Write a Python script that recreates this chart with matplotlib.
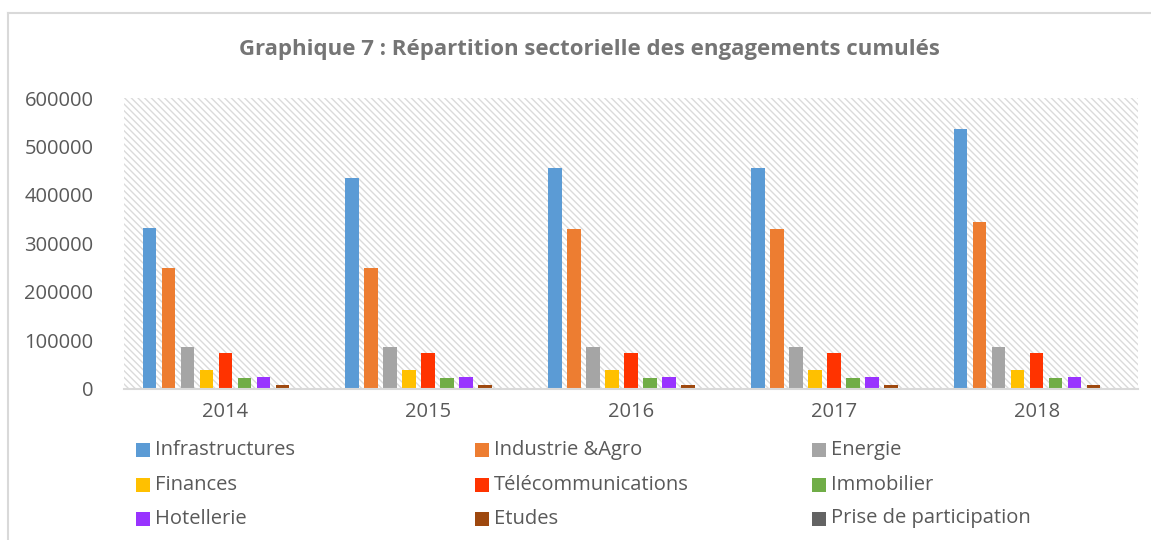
import numpy as np
import matplotlib
matplotlib.use("Agg")
import matplotlib.pyplot as plt
from matplotlib.patches import Rectangle

plt.rcParams['font.family'] = ['Open Sans', 'DejaVu Sans']

years = ["2014", "2015", "2016", "2017", "2018"]
sectors = ["Infrastructures", "Industrie &Agro", "Energie", "Finances", "Télécommunications",
           "Immobilier", "Hotellerie", "Etudes", "Prise de participation"]
infrastructures = [332000, 435000, 456000, 456000, 536000]
industrie_agro = [249000, 249000, 330000, 330000, 343000]
energie = [86000, 86000, 86000, 86000, 86000]
finances = [38000, 38000, 38000, 38000, 38000]
telecom = [74000, 74000, 74000, 74000, 74000]
immobilier = [22000, 22000, 22000, 22000, 22000]
hotellerie = [24000, 24000, 24000, 24000, 24000]
etudes = [7000, 7000, 7000, 7000, 7000]
prise_participation = [0, 0, 0, 0, 0]
series = [infrastructures, industrie_agro, energie, finances, telecom,
          immobilier, hotellerie, etudes, prise_participation]
colors = ["#5B9BD5", "#ED7D31", "#A5A5A5", "#FFC000", "#FF3300",
          "#70AD47", "#9933FF", "#9E480E", "#636363"]
yticks = [0, 100000, 200000, 300000, 400000, 500000, 600000]

W, H = 1151, 540
fig = plt.figure(figsize=(W / 100, H / 100), dpi=100)
ax = fig.add_axes([124 / W, 1 - 388.5 / H, (1138 - 124) / W, (388.5 - 98) / H])

# outer frame (top + left visible)
fig.add_artist(plt.Line2D([8 / W, 1], [1 - 13 / H, 1 - 13 / H], color="#d9d9d9", lw=1.5))
fig.add_artist(plt.Line2D([8 / W, 8 / W], [0, 1 - 13 / H], color="#d9d9d9", lw=1.5))

# hatched plot background
ax.add_patch(Rectangle((0, 0), 1, 1, transform=ax.transAxes, facecolor="white",
                       edgecolor="#dadada", hatch="\\\\\\\\\\", lw=0, zorder=0))

x = np.arange(len(years))
n = len(series); pitch = 0.0937; width = 0.0666
for i, (vals, c) in enumerate(zip(series, colors)):
    ax.bar(x + (i - (n - 1) / 2) * pitch, vals, width, color=c, zorder=2)

ax.set_xlim(-0.5, len(years) - 0.5)
ax.set_ylim(0, 600000)
ax.set_yticks(yticks)
ax.set_yticklabels([str(v) for v in yticks])
ax.set_xticks(x)
ax.set_xticklabels(years)
ax.tick_params(axis="both", length=0, labelsize=14.5, colors="#595959")
ax.tick_params(axis="y", pad=22)
ax.tick_params(axis="x", pad=10)
for s in ["top", "right", "left"]:
    ax.spines[s].set_visible(False)
ax.spines["bottom"].set_color("#d9d9d9")
ax.spines["bottom"].set_linewidth(1.5)
ax.spines["bottom"].set_zorder(3)

fig.text(589 / W, 1 - 50 / H, "Graphique 7 : Répartition sectorielle des engagements cumulés",
         ha="center", va="center", fontsize=16, fontweight="bold", color="#757575")

# legend, row-wise like the original
col_x = [136, 475, 812]
row_y = [450, 484.5, 518.5]
for i, (name, c) in enumerate(zip(sectors, colors)):
    r, k = divmod(i, 3)
    fig.add_artist(Rectangle((col_x[k] / W, 1 - (row_y[r] + 7) / H), 14 / W, 14 / H,
                             transform=fig.transFigure, facecolor=c, edgecolor="none"))
    fig.text((col_x[k] + 19) / W, 1 - row_y[r] / H, name, ha="left", va="center",
             fontsize=14.5, color="#595959")

fig.savefig("out.png", dpi=100)
